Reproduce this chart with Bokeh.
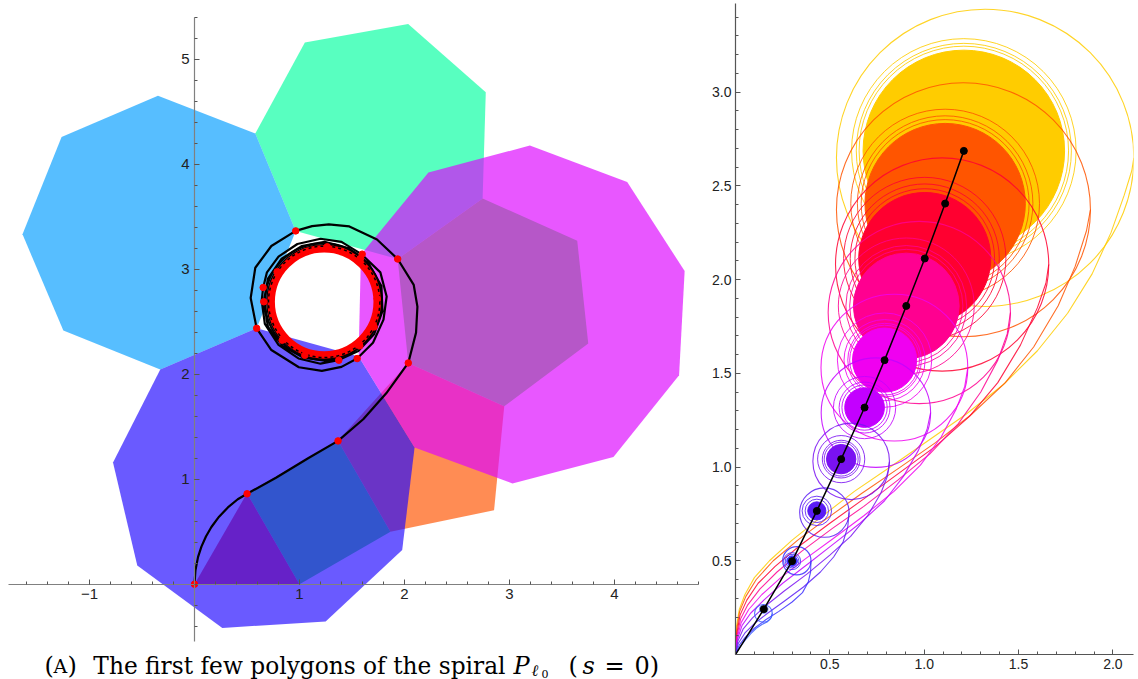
import numpy as np
from bokeh.plotting import figure
from bokeh.models import FixedTicker, Label, Range1d, PrintfTickFormatter
from bokeh.layouts import row
from bokeh.embed import file_html
from bokeh.resources import INLINE

# ---------------- Left panel data (polygons of the spiral) ----------------
tri_x = [0.0, 1.0, 0.5]
tri_y = [0.0, 0.0, 0.866]
sq_x = [1.0, 0.5, 1.366, 1.866]
sq_y = [0.0, 0.866, 1.366, 0.5]
pent_x = [1.866, 2.853, 2.95, 2.036, 1.366]
pent_y = [0.5, 0.705, 1.694, 2.107, 1.366]
hex_x = [2.95, 2.036, 1.935, 2.744, 3.645, 3.75]
hex_y = [1.694, 2.107, 3.097, 3.674, 3.27, 2.292]
hept_x = [1.935, 0.964, 0.579, 1.051, 2.035, 2.774, 2.744]
hept_y = [3.097, 3.365, 4.293, 5.159, 5.336, 4.685, 3.674]
oct_x = [0.964, 0.579, -0.348, -1.266, -1.638, -1.249, -0.326, 0.592]
oct_y = [3.365, 4.293, 4.652, 4.26, 3.332, 2.416, 2.045, 2.437]
non_x = [0.592, -0.326, -0.776, -0.545, 0.265, 1.249, 1.978, 2.096, 1.563]
non_y = [2.437, 2.045, 1.158, 0.177, -0.417, -0.355, 0.325, 1.303, 2.169]
dec_x = [1.563, 2.096, 3.028, 3.99, 4.615, 4.668, 4.121, 3.194, 2.228, 1.585]
dec_y = [2.169, 1.303, 0.96, 1.212, 1.991, 2.982, 3.831, 4.177, 3.922, 3.138]
poly_colors = ["#EB0006", "#01E91C", "#FF5400", "#1CFF06", "#06FFA1", "#049EFF", "#2109FF", "#DD04FF"]

spiral_pts = [
    (0.000, 0.000), (0.009, 0.133), (0.034, 0.260), (0.066, 0.358), (0.109, 0.454),
    (0.161, 0.545), (0.234, 0.643), (0.318, 0.731), (0.412, 0.809), (0.501, 0.861),
    (0.776, 1.014), (1.082, 1.200), (1.367, 1.365), (1.607, 1.571), (1.826, 1.818),
    (2.036, 2.107), (2.110, 2.396), (2.123, 2.643), (2.088, 2.850), (1.935, 3.097),
    (1.738, 3.283), (1.475, 3.407), (1.279, 3.427), (1.120, 3.410), (0.964, 3.365),
    (0.732, 3.221), (0.579, 3.014), (0.535, 2.726), (0.592, 2.437), (0.732, 2.230),
    (0.994, 2.066), (1.213, 2.032), (1.400, 2.070), (1.549, 2.149), (1.700, 2.300),
    (1.800, 2.520), (1.830, 2.740), (1.770, 2.970), (1.590, 3.143), (1.400, 3.260),
    (1.200, 3.290), (0.980, 3.240), (0.800, 3.120), (0.690, 2.970), (0.654, 2.826),
    (0.640, 2.700), (0.670, 2.480), (0.800, 2.280), (0.990, 2.150), (1.200, 2.100),
    (1.368, 2.133), (1.560, 2.220), (1.710, 2.380), (1.790, 2.600), (1.780, 2.840),
    (1.660, 3.050), (1.460, 3.200), (1.240, 3.260), (1.020, 3.220), (0.830, 3.100),
    (0.700, 2.910), (0.660, 2.690), (0.700, 2.450), (0.840, 2.270), (1.030, 2.160),
    (1.240, 2.130), (1.440, 2.170), (1.620, 2.300), (1.740, 2.500), (1.770, 2.720),
]
limit_ring_x = [1.228, 1.232, 1.235]
limit_ring_y = [2.692, 2.690, 2.689]
limit_ring_r = [0.555, 0.540, 0.505]
red_pts = [
    (0.0, 0.0), (0.501, 0.861), (1.367, 1.365), (2.036, 2.107), (1.935, 3.097),
    (0.964, 3.365), (0.592, 2.437), (1.549, 2.149), (1.597, 3.143), (0.654, 2.826),
    (1.374, 2.133), (1.264, 3.213), (0.835, 2.324), (0.787, 2.975), (1.574, 2.270),
    (1.740, 2.720), (1.581, 3.102), (0.660, 2.690), (1.05, 2.18), (1.71, 2.45),
]

# ---------------- Right panel data ----------------
dot_x = [0.150, 0.300, 0.431, 0.560, 0.684, 0.790, 0.905, 1.003, 1.111, 1.210]
dot_y = [0.242, 0.498, 0.766, 1.042, 1.317, 1.570, 1.859, 2.112, 2.405, 2.686]
fill_r = [0.012, 0.028, 0.048, 0.078, 0.105, 0.170, 0.280, 0.350, 0.425, 0.534]
inner_r = [
    [0.022],
    [0.045, 0.036],
    [0.078, 0.062],
    [0.125, 0.100, 0.090],
    [0.165, 0.135, 0.120],
    [0.250, 0.215, 0.195, 0.185],
    [0.360, 0.320, 0.300],
    [0.430, 0.395, 0.370],
    [0.500, 0.465, 0.445],
    [0.595, 0.570, 0.555],
]
loop_x = [0.148, 0.325, 0.471, 0.613, 0.744, 0.842, 0.974, 1.095, 1.208, 1.323]
loop_y = [0.219, 0.500, 0.757, 1.030, 1.290, 1.530, 1.824, 2.080, 2.372, 2.649]
loop_r = [0.047, 0.075, 0.131, 0.203, 0.290, 0.389, 0.483, 0.565, 0.673, 0.788]
arm_pts = [
    [(0, 0), (0.02, 0.035), (0.05, 0.075), (0.08, 0.11), (0.11, 0.14), (0.14, 0.16),
     (0.17, 0.175), (0.188, 0.195), (0.195, 0.219)],
    [(0, 0), (0.02, 0.05), (0.05, 0.09), (0.10, 0.14), (0.16, 0.185), (0.23, 0.23),
     (0.30, 0.28), (0.355, 0.33), (0.385, 0.385), (0.398, 0.44), (0.40, 0.50)],
    [(0, 0), (0.015, 0.06), (0.05, 0.115), (0.10, 0.165), (0.17, 0.22), (0.26, 0.285),
     (0.36, 0.36), (0.45, 0.44), (0.52, 0.52), (0.57, 0.60), (0.595, 0.68), (0.602, 0.757)],
    [(0, 0), (0.012, 0.07), (0.04, 0.135), (0.09, 0.195), (0.16, 0.26), (0.26, 0.34),
     (0.38, 0.43), (0.50, 0.53), (0.61, 0.63), (0.70, 0.74), (0.77, 0.86), (0.805, 0.95),
     (0.816, 1.03)],
    [(0, 0), (0.01, 0.08), (0.035, 0.155), (0.08, 0.22), (0.15, 0.29), (0.25, 0.38),
     (0.38, 0.48), (0.52, 0.59), (0.66, 0.70), (0.79, 0.82), (0.89, 0.95), (0.97, 1.09),
     (1.015, 1.20), (1.034, 1.29)],
    [(0, 0), (0.009, 0.09), (0.03, 0.17), (0.07, 0.24), (0.14, 0.32), (0.24, 0.41),
     (0.37, 0.51), (0.52, 0.62), (0.68, 0.74), (0.84, 0.87), (0.98, 1.01), (1.09, 1.16),
     (1.17, 1.31), (1.215, 1.43), (1.231, 1.53)],
    [(0, 0), (0.008, 0.10), (0.027, 0.19), (0.065, 0.265), (0.13, 0.35), (0.22, 0.44),
     (0.35, 0.55), (0.51, 0.67), (0.68, 0.79), (0.86, 0.93), (1.03, 1.07), (1.18, 1.23),
     (1.30, 1.40), (1.39, 1.57), (1.44, 1.71), (1.457, 1.824)],
    [(0, 0), (0.007, 0.11), (0.024, 0.21), (0.06, 0.29), (0.12, 0.38), (0.21, 0.47),
     (0.34, 0.58), (0.50, 0.70), (0.68, 0.83), (0.87, 0.97), (1.06, 1.11), (1.24, 1.27),
     (1.39, 1.45), (1.51, 1.65), (1.60, 1.85), (1.645, 1.98), (1.66, 2.08)],
    [(0, 0), (0.006, 0.13), (0.022, 0.23), (0.055, 0.31), (0.11, 0.40), (0.20, 0.50),
     (0.33, 0.61), (0.49, 0.73), (0.67, 0.86), (0.86, 0.99), (1.06, 1.13), (1.25, 1.28),
     (1.43, 1.45), (1.58, 1.64), (1.71, 1.86), (1.80, 2.07), (1.86, 2.26), (1.881, 2.372)],
    [(0, 0), (0.005, 0.15), (0.02, 0.24), (0.05, 0.32), (0.10, 0.41), (0.18, 0.50),
     (0.30, 0.61), (0.45, 0.73), (0.63, 0.87), (0.82, 1.00), (1.02, 1.14), (1.22, 1.28),
     (1.42, 1.44), (1.60, 1.62), (1.76, 1.82), (1.89, 2.03), (1.99, 2.25), (2.06, 2.45),
     (2.10, 2.58), (2.111, 2.649)],
]
spiral_colors = ["#3A5BFF", "#3C2EFF", "#5A1CF5", "#7A12F2", "#C300FF",
                 "#F000F0", "#FF0090", "#FF0030", "#FF5500", "#FFCC00"]

# ---------------- Left figure ----------------
LS = 105.0
OX, OY = 194.0, 580.7          # pixel position of the origin
W1, H1 = 700, 679
p1 = figure(frame_width=W1, frame_height=H1,
            x_range=Range1d(-OX / LS, (W1 - OX) / LS),
            y_range=Range1d((OY - H1) / LS, OY / LS),
            output_backend="svg", toolbar_location=None, min_border=0)
p1.grid.visible = False
p1.outline_line_color = None

xs = [tri_x, sq_x, pent_x, hex_x, hept_x, oct_x, non_x, dec_x]
ys = [tri_y, sq_y, pent_y, hex_y, hept_y, oct_y, non_y, dec_y]
p1.patches(xs=xs, ys=ys, fill_color=poly_colors, fill_alpha=0.67, line_color=None)

p1.line([p[0] for p in spiral_pts], [p[1] for p in spiral_pts], line_color="black", line_width=2.2)
p1.circle(x=limit_ring_x[:2], y=limit_ring_y[:2], radius=limit_ring_r[:2], fill_color=None,
          line_color="black", line_width=2.0)
p1.circle(x=limit_ring_x[2:], y=limit_ring_y[2:], radius=limit_ring_r[2:], fill_color=None,
          line_color="red", line_width=7.5)
p1.circle(x=limit_ring_x[2:], y=limit_ring_y[2:], radius=[r + 0.025 for r in limit_ring_r[2:]],
          fill_color=None, line_color="black", line_width=1.5, line_dash="3 3")
p1.scatter([p[0] for p in red_pts], [p[1] for p in red_pts], size=6.5, color="red")

for ax in (p1.xaxis[0], p1.yaxis[0]):
    ax.fixed_location = 0
    ax.axis_line_color = "#808080"
    ax.axis_line_width = 1.2
    ax.major_tick_line_color = "#555555"
    ax.minor_tick_line_color = "#555555"
    ax.major_tick_in = 5
    ax.major_tick_out = 0
    ax.minor_tick_in = 3
    ax.minor_tick_out = 0
    ax.major_label_text_font = "Liberation Sans"
    ax.major_label_text_font_size = "15px"
    ax.major_label_text_color = "#222222"
    ax.major_label_standoff = 5
p1.xaxis.ticker = FixedTicker(ticks=[-1, 1, 2, 3, 4],
                              minor_ticks=[round(v, 1) for v in np.arange(-1.6, 4.81, 0.2)])
p1.xaxis.major_label_overrides = {-1: "\u22121"}
p1.xaxis.bounds = (-1.77, 4.80)
p1.yaxis.ticker = FixedTicker(ticks=[1, 2, 3, 4, 5],
                              minor_ticks=[round(v, 1) for v in np.arange(-0.4, 5.41, 0.2)])
p1.yaxis.bounds = (-0.55, 5.40)

cap_font = "DejaVu Serif"
def cap(text, px, py, size, style="normal", align="left"):
    p1.add_layout(Label(x=(px - OX) / LS, y=(OY - py) / LS, text=text, text_font=cap_font,
                        text_font_size=size, text_font_style=style, text_align=align,
                        text_baseline="alphabetic", text_color="black"))

BASE = 662
cap("(", 44, BASE, "24px")
cap("A", 53, BASE, "19px")
cap(")", 67, BASE, "24px")
cap("The first few polygons of the spiral", 505, BASE, "23.3px", align="right")
cap("P", 513, BASE, "24px", style="italic")
cap("\u2113", 531, BASE + 5, "16px", style="italic")
cap("0", 541, BASE + 8, "11px")
cap("(", 568, BASE, "24px")
cap("s", 582, BASE, "24px", style="italic")
cap("=", 604, BASE, "24px")
cap("0)", 634, BASE, "24px")

# ---------------- Right figure ----------------
RS_X, RS_Y = 188.7, 187.5
R_LEFT, R_RIGHT, R_TOP, R_BOTTOM = 735, 1133, 3, 654
FW2, FH2 = R_RIGHT - R_LEFT, R_BOTTOM - R_TOP
p2 = figure(frame_width=FW2, frame_height=FH2,
            x_range=Range1d(0, FW2 / RS_X), y_range=Range1d(0, FH2 / RS_Y),
            output_backend="svg", toolbar_location=None,
            min_border_left=R_LEFT - W1, min_border_right=1138 - R_RIGHT,
            min_border_top=R_TOP, min_border_bottom=H1 - R_BOTTOM)
p2.grid.visible = False
p2.outline_line_color = None

for k in range(9, -1, -1):
    c = spiral_colors[k]
    p2.circle(x=[dot_x[k]], y=[dot_y[k]], radius=[fill_r[k]], fill_color=c, fill_alpha=1.0,
              line_color=c, line_width=1)
    n = len(inner_r[k])
    p2.circle(x=[dot_x[k]] * n, y=[dot_y[k]] * n, radius=inner_r[k], fill_color=None,
              line_color=c, line_width=1, line_alpha=0.85)
    p2.circle(x=[loop_x[k]], y=[loop_y[k]], radius=[loop_r[k]], fill_color=None,
              line_color=c, line_width=1.1, line_alpha=0.85)
    p2.line([q[0] for q in arm_pts[k]], [q[1] for q in arm_pts[k]], line_color=c,
            line_width=1.1, line_alpha=0.85, line_join="round")

p2.line([0.0] + dot_x, [0.0] + dot_y, line_color="black", line_width=1.5)
p2.scatter(dot_x, dot_y, size=7, color="black")

for ax in (p2.xaxis[0], p2.yaxis[0]):
    ax.axis_line_color = "#555555"
    ax.axis_line_width = 1.2
    ax.major_tick_line_color = "#555555"
    ax.minor_tick_line_color = "#555555"
    ax.major_tick_in = 5
    ax.major_tick_out = 0
    ax.minor_tick_in = 3
    ax.minor_tick_out = 0
    ax.major_label_text_font = "Liberation Sans"
    ax.major_label_text_font_size = "14px"
    ax.major_label_text_color = "#222222"
    ax.major_label_standoff = 4
    ax.formatter = PrintfTickFormatter(format="%.1f")
p2.xaxis.ticker = FixedTicker(ticks=[0.5, 1.0, 1.5, 2.0],
                              minor_ticks=[round(v, 1) for v in np.arange(0.1, 2.1, 0.1)])
p2.yaxis.ticker = FixedTicker(ticks=[0.5, 1.0, 1.5, 2.0, 2.5, 3.0],
                              minor_ticks=[round(v, 1) for v in np.arange(0.1, 3.45, 0.1)])

layout = row(p1, p2)
open("out.html", "w").write(file_html(layout, INLINE))
